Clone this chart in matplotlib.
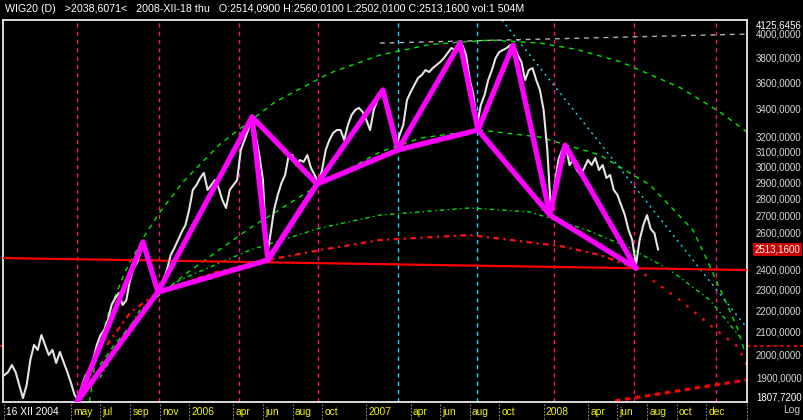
import numpy as np
import matplotlib
matplotlib.use('Agg')
import matplotlib.pyplot as plt
import matplotlib.transforms as mtransforms
from matplotlib.ticker import NullLocator

plt.rcParams['font.family'] = ['Liberation Sans', 'DejaVu Sans']

# =============================================================================
# Data (x in months counted from I 2005, y = WIG20 price)
# =============================================================================
start_month = -0.5
step = 0.25
close = [1916, 1929, 1958, 1929, 1875, 1823, 1875, 1979, 2045, 2023, 2089, 2045,
         2001, 2023, 1967, 2014, 1971, 1929, 1884, 1835, 1815, 1875, 1916, 1929,
         1979, 2045, 2089, 2112, 2158, 2229, 2263, 2288, 2229, 2253, 2353, 2414,
         2446, 2510, 2549, 2446, 2378, 2327, 2292, 2353, 2404, 2483, 2521, 2565,
         2610, 2649, 2737, 2858, 2889, 2933, 2965, 2858, 2889, 2920, 2870, 2797,
         2749, 2858, 2889, 2920, 3116, 3184, 3253, 3338, 3218, 3082, 2920, 2467,
         2593, 2737, 2827, 2901, 2952, 3082, 3082, 3016, 3049, 3036, 3082, 2997,
         2952, 2901, 2984, 3116, 3184, 3232, 3253, 3253, 3184, 3288, 3360, 3397,
         3412, 3382, 3324, 3253, 3397, 3471, 3547, 3531, 3360, 3253, 3129, 3218,
         3288, 3471, 3531, 3585, 3640, 3663, 3703, 3687, 3719, 3743, 3768, 3800,
         3842, 3883, 3867, 3917, 3908, 3825, 3624, 3508, 3288, 3434, 3508, 3624,
         3703, 3800, 3850, 3867, 3883, 3908, 3900, 3825, 3768, 3624, 3703, 3719,
         3624, 3547, 3397, 3116, 2725, 2889, 3049, 3116, 3149, 3016, 3049, 2984,
         2952, 2997, 3049, 3016, 3062, 2984, 3016, 2933, 2952, 2858, 2827, 2767,
         2707, 2621, 2565, 2430, 2565, 2649, 2707, 2627, 2604, 2513]

# pivots of the zigzag
pivot_month = [4.41, 8.88, 9.89, 16.26, 17.34, 20.66, 25.12, 26.14, 30.34, 31.56,
               33.93, 36.43, 37.45, 42.25]
pivot_price = [1807.72, 2554, 2292, 3346, 2457, 2895, 3547, 3116, 3925, 3253,
               3908, 2707, 3149, 2414]
zigzag_idx = [0, 1, 2, 3, 4, 5, 6, 7, 8, 9, 10, 11, 12, 13]
extra_idx = [3, 5]
lows_idx = [0, 2, 4, 5, 7, 9, 11, 13]

# arcs
g1_month = [5.25, 5.63, 5.96, 6.64, 7.66, 8.88, 10.03, 11.58, 14.09, 17.81, 21.54,
            24.92, 28.31, 32.37, 35.75, 38.26, 41.17, 45.23, 47.94, 49.77]
g1_price = [1808, 1962, 2058, 2210, 2394, 2576, 2725, 2907, 3156, 3456, 3679,
            3825, 3913, 3951, 3925, 3871, 3771, 3566, 3382, 3239]
g2_month = [5.96, 6.84, 8.33, 9.82, 11.85, 16.12, 20.66, 24.92, 27.63, 31.69,
            35.75, 39.82, 43.2, 46.11, 47.13, 49.09, 49.63]
g2_price = [1958, 2036, 2158, 2268, 2389, 2632, 2882, 3102, 3197, 3253, 3204,
            3082, 2889, 2621, 2446, 2126, 2014]
g3_month = [5.96, 8.67, 11.38, 16.12, 20.86, 24.92, 31.02, 35.08, 38.94, 41.85,
            44.56, 47.26, 49.30]
g3_price = [1904, 2205, 2353, 2510, 2632, 2707, 2749, 2725, 2621, 2521, 2404,
            2253, 2080]
r1_month = [6.44, 7.99, 9.89, 13.62, 17.34, 20.86, 24.92, 31.02, 37.11, 39.82, 42.25]
r1_price = [2045, 2191, 2292, 2389, 2457, 2510, 2565, 2593, 2532, 2483, 2414]
r1b_month = [42.25, 45.23, 47.26, 49.16, 49.77]
r1b_price = [2414, 2253, 2135, 2036, 1958]

cyan_month = [33.18, 49.77]
cyan_price = [4125.6, 2121]
gray_month = [24.92, 49.77]
gray_price = [3925, 4002]
red_month = [-0.60, 49.77]
red_price = [2467, 2404]
red_low_month = [40.83, 49.77]
red_low_price = [1812, 1896]

cycle_pink = [4.41, 9.96, 15.38, 20.72, 36.70, 42.11, 47.66]
cycle_cyan = [26.13, 31.49]

month_ticks = [-0.55, 4, 6, 8, 10, 12, 15, 17, 19, 21, 24, 27, 29, 31, 33, 36,
               39, 41, 43, 45, 47]
month_labels = ['16 XII 2004', 'may', 'jul', 'sep', 'nov', '2006', 'apr', 'jun',
                'aug', 'oct', '2007', 'apr', 'jun', 'aug', 'oct', '2008', 'apr',
                'jun', 'aug', 'oct', 'dec']
price_ticks = [4000, 3800, 3600, 3400, 3200, 3100, 3000, 2900, 2800, 2700, 2600,
               2400, 2300, 2200, 2100, 2000, 1900]
price_min, price_max = 1807.72, 4125.6456
last_close = 2513.16
cursor_level = 2038.6071

header = ('WIG20 (D)   >2038,6071<   2008-XII-18 thu   O:2514,0900 H:2560,0100 '
          'L:2502,0100 C:2513,1600 vol:1 504M')

def fmt(v):
    return ('%.4f' % v).replace('.', ',')

# =============================================================================
# Figure
# =============================================================================
fig = plt.figure(figsize=(8.04, 4.2), dpi=100, facecolor='black')
ax = fig.add_axes([3/804., 18/420., 744/804., 382/420.], facecolor='black')
ax.set_yscale('log')
ax.set_xlim(-0.60, 49.77)
ax.set_ylim(price_min, price_max)
ax.xaxis.set_major_locator(NullLocator())
ax.yaxis.set_major_locator(NullLocator())
ax.yaxis.set_minor_locator(NullLocator())
ax.xaxis.set_minor_locator(NullLocator())
for s in ax.spines.values():
    s.set_color('white')
    s.set_linewidth(1.2)

# time cycle lines
for m in cycle_pink:
    ax.axvline(m, color='#ff1080', lw=1, dashes=(3, 3), zorder=1)
for m in cycle_cyan:
    ax.axvline(m, color='#20d8f0', lw=1, dashes=(3, 3), zorder=1)

# arcs and lines
ax.plot(g1_month, g1_price, color='#00e600', lw=1, dashes=(3.5, 3.5), zorder=2)
ax.plot(g2_month, g2_price, color='#00e600', lw=1, dashes=(3.5, 3.5), zorder=2)
ax.plot(g3_month, g3_price, color='#00e600', lw=1, dashes=(3, 2.5, 1, 2.5), zorder=2)
ax.plot(r1_month, r1_price, color='#ff1010', lw=1.6, dashes=(2.5, 2, 1, 2), zorder=2)
ax.plot(r1b_month, r1b_price, color='#ff1010', lw=1.6, dashes=(1.2, 3.5), zorder=2)
ax.plot(cyan_month, cyan_price, color='#20d8f0', lw=1, dashes=(1.5, 3), zorder=2)
ax.plot(gray_month, gray_price, color='#b0b0b0', lw=1, dashes=(3.5, 3.5), zorder=2)
ax.plot(red_month, red_price, color='#ff0000', lw=1.6, zorder=3)
ax.plot(red_low_month, red_low_price, color='#ff0000', lw=2.2, dashes=(1.8, 1.5), zorder=2)

# price
month = start_month + step * np.arange(len(close))
ax.plot(month, close, color='#e4e4e4', lw=1.5, zorder=4)

# zigzag
pm = np.array(pivot_month)
pp = np.array(pivot_price)
kw = dict(color='#ff00ff', lw=3.8, solid_capstyle='round', solid_joinstyle='round', zorder=5)
ax.plot(pm[zigzag_idx], pp[zigzag_idx], **kw)
ax.plot(pm[extra_idx], pp[extra_idx], **kw)
ax.plot(pm[lows_idx], pp[lows_idx], **kw)

# right price scale
ty = mtransforms.blended_transform_factory(ax.transAxes, ax.transData)
for v in price_ticks:
    ax.text(1.012, v, fmt(v), transform=ty, color='#d8d8d8',
            fontsize=7.0, va='center', ha='left')
ax.text(1.012, price_max, fmt(price_max), transform=ty,
        color='white', fontsize=7.0, va='top', ha='left')
ax.text(1.012, price_min, fmt(price_min), transform=ty,
        color='white', fontsize=7.0, va='bottom', ha='left')
ax.text(1.010, last_close, fmt(last_close), transform=ty,
        color='white', fontsize=7.0, va='center', ha='left',
        bbox=dict(facecolor='#cc0000', edgecolor='none', pad=1.0))
ax.plot([49.77, 53.63], [cursor_level, cursor_level], color='#ff0000', lw=1.2,
        dashes=(2, 2), clip_on=False)
ax.plot([-0.81, -0.60], [cursor_level, cursor_level], color='#ff0000', lw=1.2,
        clip_on=False)

# bottom time scale
tx = mtransforms.blended_transform_factory(ax.transData, ax.transAxes)
for m, lab in zip(month_ticks, month_labels):
    ax.plot([m, m], [-0.004, -0.045], color='#8c8c8c', lw=0.8, dashes=(1.5, 1.5),
            transform=tx, clip_on=False)
    ax.text(m + 0.15, -0.025, lab, transform=tx, fontsize=7.4, va='center', ha='left',
            color='white' if lab.startswith('16') else '#f0f000')
ax.plot([49.77, 49.77], [-0.004, -0.045], color='#8c8c8c', lw=0.8, dashes=(1.5, 1.5),
        transform=tx, clip_on=False)

fig.text(783/804., 1 - 410/420., 'Log', color='#c8c8c8', fontsize=7.4, va='center')
fig.text(5/804., 1 - 9/420., header, color='white', fontsize=7.7, va='center')

fig.savefig('out.png', dpi=100, facecolor='black')
